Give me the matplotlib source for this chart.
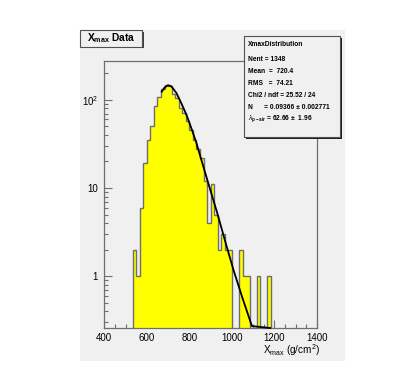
import numpy as np
import matplotlib
matplotlib.use("Agg")
import matplotlib.pyplot as plt
from matplotlib.patches import Rectangle
from matplotlib.ticker import FixedLocator, MultipleLocator, NullFormatter

plt.rcParams['font.family'] = ['Liberation Sans', 'DejaVu Sans']
plt.rcParams['mathtext.fontset'] = 'custom'
plt.rcParams['mathtext.rm'] = 'Liberation Sans'
plt.rcParams['mathtext.it'] = 'Liberation Sans:italic'
plt.rcParams['mathtext.bf'] = 'Liberation Sans:bold'

# ---- data ----
bin_edges = np.linspace(400, 1400, 61)
counts = [0, 0, 0, 0, 0, 0, 0, 0,
          2, 1, 6, 19, 35, 51, 86, 107, 134, 147, 145, 117,
          105, 81, 71, 57, 45, 35, 28, 22, 12, 4,
          11, 5, 2, 3, 2, 2, 0, 0, 2, 1,
          1, 0, 0, 1, 0, 0, 1, 0, 0, 0,
          0, 0, 0, 0, 0, 0, 0, 0, 0, 0]
fit_x = [670, 684, 700, 715, 739, 762, 786, 809, 833, 856, 892, 929, 968, 1007, 1050, 1094, 1180]
fit_y = [124, 139, 147, 143, 120, 92, 68, 48, 32.5, 21, 10.7, 5.4, 2.5, 1.18, 0.56, 0.27, 0.05]
x_ticks = [400, 600, 800, 1000, 1200, 1400]
y_ticks = [1, 10, 100]
y_ticklabels = ['1', '10', r'$10^{\mathregular{2}}$']
stats_title = "XmaxDistribution"
stats_lines = ["Nent = 1348",
               "Mean  =  720.4",
               "RMS   =  74.21",
               "Chi2 / ndf = 25.52 / 24",
               "N      = 0.09366 \u00b1 0.002771",
               r"$\lambda_{\mathregular{p-air}}$" + " = 62.66 \u00b1  1.96"]

W, H = 415, 377
fig = plt.figure(figsize=(W / 100, H / 100), dpi=100)
fig.patch.set_facecolor('white')

def fx(px):
    return px / W

def fy(py):
    return 1 - py / H

bg = '#f0f0f0'
# canvas
fig.add_artist(Rectangle((fx(80), fy(361)), (345 - 80) / W, (361 - 30) / H,
                         transform=fig.transFigure, facecolor=bg, edgecolor='none', zorder=-5))

ax_l, ax_r, ax_t, ax_b = 104.3, 317.0, 61.0, 328.0
ax = fig.add_axes([fx(ax_l), fy(ax_b), (ax_r - ax_l) / W, (ax_b - ax_t) / H])
ax.set_facecolor(bg)
ymin, ymax = 0.257, 277
ax.set_yscale('log')
ax.set_xlim(400, 1400)
ax.set_ylim(ymin, ymax)

cvals = np.array(counts, dtype=float)
cplot = np.where(cvals > 0, cvals, 1e-3)
ax.stairs(cplot, bin_edges, fill=True, color='#ffff00', baseline=1e-3, zorder=2)
ax.stairs(cplot, bin_edges, fill=False, color='#6e6e6e', linewidth=1.0, baseline=1e-3, zorder=3)
ax.plot(fit_x, np.maximum(np.array(fit_y), ymin), color='black', linewidth=1.3, zorder=4, clip_on=False)

for s in ax.spines.values():
    s.set_color('#6e6e6e')
    s.set_linewidth(0.9)

ax.xaxis.set_major_locator(FixedLocator(x_ticks))
ax.xaxis.set_minor_locator(MultipleLocator(50))
ax.set_xticklabels([str(v) for v in x_ticks])
ax.yaxis.set_major_locator(FixedLocator(y_ticks))
ax.set_yticklabels(y_ticklabels)
ax.yaxis.set_minor_locator(FixedLocator([m * 10 ** e for e in range(-1, 3) for m in range(2, 10)]))
ax.yaxis.set_minor_formatter(NullFormatter())
ax.tick_params(which='major', direction='in', length=5.8, width=0.8, color='#6e6e6e',
               labelsize=7.0, pad=3.6, top=False, right=False)
ax.tick_params(which='minor', direction='in', length=2.9, width=0.8, color='#6e6e6e',
               top=False, right=False)
ax.tick_params(axis='y', which='major', pad=4.5)

fig.text(fx(320), fy(353.5), r'X$_{\mathregular{max}}$ (g/cm$^{\mathregular{2}}$)',
         ha='right', va='baseline', fontsize=7.2)

# title box
tb = (80, 30, 142, 46.7)
fig.add_artist(Rectangle((fx(tb[0] + 1.5), fy(tb[3] + 1.5)), (tb[2] - tb[0]) / W, (tb[3] - tb[1]) / H,
                         transform=fig.transFigure, facecolor='#404040', edgecolor='none', zorder=9))
fig.add_artist(Rectangle((fx(tb[0]), fy(tb[3])), (tb[2] - tb[0]) / W, (tb[3] - tb[1]) / H,
                         transform=fig.transFigure, facecolor=bg, edgecolor='#505050', linewidth=0.8, zorder=10))
fig.text(fx((tb[0] + tb[2]) / 2), fy((tb[1] + tb[3]) / 2), r'X$_{\mathregular{max}}$ Data',
         ha='center', va='center', fontsize=7.4, fontweight='bold', zorder=11)

# stats box
sb = (244.3, 36, 340, 137.3)
fig.add_artist(Rectangle((fx(sb[0] + 1.5), fy(sb[3] + 1.5)), (sb[2] - sb[0]) / W, (sb[3] - sb[1]) / H,
                         transform=fig.transFigure, facecolor='#202020', edgecolor='none', zorder=9))
fig.add_artist(Rectangle((fx(sb[0]), fy(sb[3])), (sb[2] - sb[0]) / W, (sb[3] - sb[1]) / H,
                         transform=fig.transFigure, facecolor=bg, edgecolor='#505050', linewidth=0.8, zorder=10))
fig.text(fx(248.3), fy(44), stats_title, ha='left', va='center', fontsize=4.8,
         fontweight='bold', zorder=11)
ys = [59.3, 71.7, 83.5, 95.7, 107.3, 118.5]
for line, yy in zip(stats_lines, ys):
    fig.text(fx(248.3), fy(yy), line, ha='left', va='center', fontsize=4.8,
             fontweight='bold', zorder=11)

fig.savefig('out.png', dpi=100)
